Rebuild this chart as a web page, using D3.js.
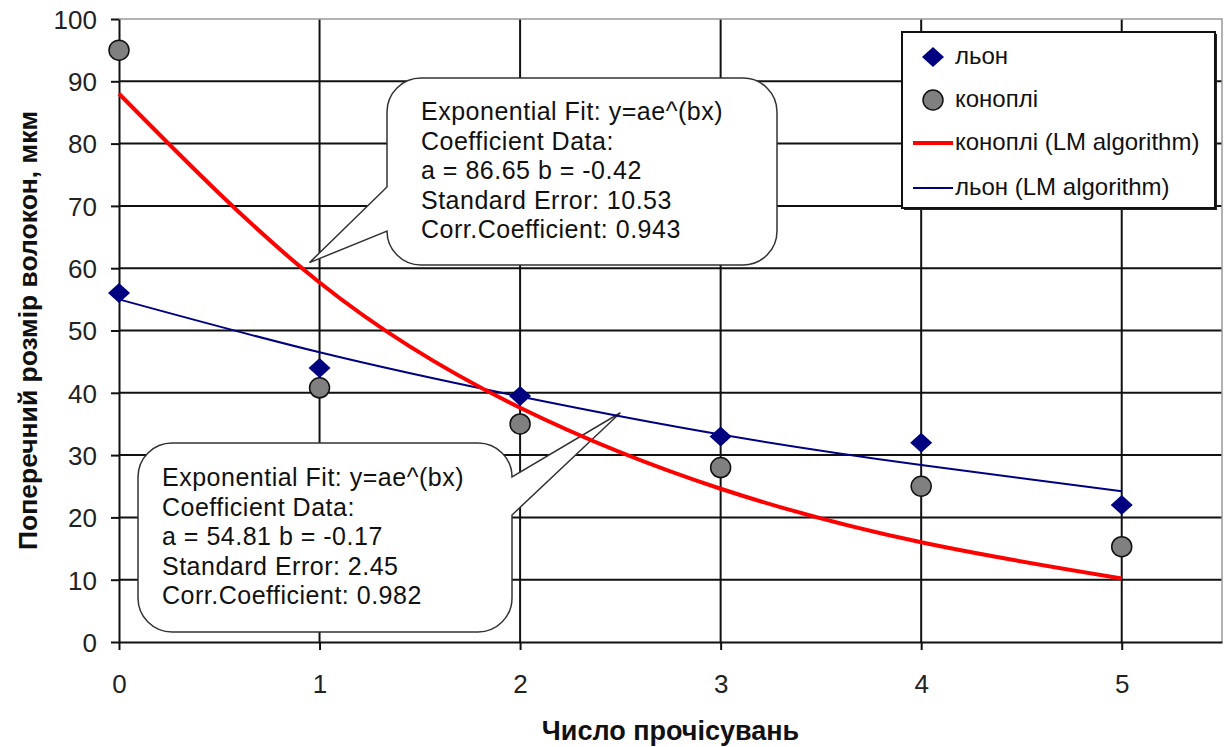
<!DOCTYPE html>
<html>
<head>
<meta charset="utf-8">
<script src="https://cdn.jsdelivr.net/npm/d3@7"></script>
<style>
    body { margin: 0; background: #fff; }
    svg { display: block; }
    text { font-family: "Liberation Sans", Arial, sans-serif; }
</style>
</head>
<body>
<div id="chart"></div>
<script>

// дані
var passes = [0, 1, 2, 3, 4, 5];
var flax = [56, 44, 39.5, 33, 32, 22];
var hemp = [95, 40.8, 35, 28, 25, 15.3];
var hempFit = [88, 57.7, 37.6, 24.6, 16, 10.2];
var flaxFit = [55, 46.5, 39.4, 33.3, 28.4, 24.2];

var xTickLabels = ["0", "1", "2", "3", "4", "5"];
var yTickLabels = ["0", "10", "20", "30", "40", "50", "60", "70", "80", "90", "100"];

var legendNames = ["льон", "коноплі", "коноплі (LM algorithm)", "льон (LM algorithm)"];

var hempNote = ["Exponential Fit: y=ae^(bx)", "Coefficient Data:", "a = 86.65 b = -0.42",
    "Standard Error: 10.53", "Corr.Coefficient: 0.943"];
var flaxNote = ["Exponential Fit: y=ae^(bx)", "Coefficient Data:", "a = 54.81 b = -0.17",
    "Standard Error: 2.45", "Corr.Coefficient: 0.982"];

var width = 1224, height = 747;

var svg = d3.select("#chart").append("svg")
    .attr("width", width)
    .attr("height", height);

var x = d3.scaleLinear().domain([0, 5.5]).range([119, 1222]);
var y = d3.scaleLinear().domain([0, 100]).range([642, 19]);

var xVals = xTickLabels.map(Number);
var yVals = yTickLabels.map(Number);

// сітка
var grid = svg.append("g");
grid.selectAll(".hg")
    .data(yVals.filter(function(d) { return d > 0 && d < 100; }))
    .enter().append("line")
    .attr("x1", x(0)).attr("x2", x(5.5))
    .attr("y1", function(d) { return y(d); })
    .attr("y2", function(d) { return y(d); })
    .attr("stroke", "#111").attr("stroke-width", 2);
grid.selectAll(".vg")
    .data(xVals.filter(function(d) { return d > 0; }))
    .enter().append("line")
    .attr("y1", y(0)).attr("y2", y(100))
    .attr("x1", function(d) { return x(d); })
    .attr("x2", function(d) { return x(d); })
    .attr("stroke", "#111").attr("stroke-width", 2);

// рамка зверху і справа
grid.append("path")
    .attr("d", "M" + x(0) + "," + y(100) + "H" + x(5.5) + "V" + y(0))
    .attr("fill", "none")
    .attr("stroke", "#9a9a9a")
    .attr("stroke-width", 1.5);

// осі
var xAxis = svg.append("g")
    .attr("transform", "translate(0," + y(0) + ")")
    .call(d3.axisBottom(x).tickValues(xVals).tickFormat(function(d, i) { return xTickLabels[i]; }).tickSize(8).tickSizeOuter(0));
xAxis.select(".domain").attr("stroke", "#111").attr("stroke-width", 2);
xAxis.selectAll(".tick line").attr("stroke", "#111").attr("stroke-width", 2);
xAxis.selectAll("text")
    .attr("dy", null).attr("y", 51)
    .style("font-size", "26px").attr("fill", "#222");

var yAxis = svg.append("g")
    .attr("transform", "translate(" + x(0) + ",0)")
    .call(d3.axisLeft(y).tickValues(yVals).tickFormat(function(d, i) { return yTickLabels[i]; }).tickSize(8).tickSizeOuter(0));
yAxis.select(".domain").attr("stroke", "#111").attr("stroke-width", 2);
yAxis.selectAll(".tick line").attr("stroke", "#111").attr("stroke-width", 2);
yAxis.selectAll("text")
    .attr("x", -22).attr("dy", "0.36em")
    .style("font-size", "26px").attr("fill", "#222");

svg.append("text")
    .attr("x", (x(0) + x(5.5)) / 2).attr("y", 740)
    .attr("text-anchor", "middle")
    .style("font-size", "27px").style("font-weight", "bold")
    .attr("fill", "#111")
    .text("Число прочісувань");

svg.append("text")
    .attr("transform", "translate(37," + ((y(0) + y(100)) / 2) + ") rotate(-90)")
    .attr("text-anchor", "middle")
    .style("font-size", "26.5px").style("font-weight", "bold")
    .attr("fill", "#111")
    .text("Поперечний розмір волокон, мкм");

// виноски з параметрами апроксимації
function bubble(b, r, tip, notch) {
    var p = d3.path();
    p.moveTo(b.x0 + r, b.y0);
    p.lineTo(b.x1 - r, b.y0);
    p.arcTo(b.x1, b.y0, b.x1, b.y0 + r, r);
    if (notch == "right") {
        p.lineTo(tip[0], tip[1]);
        p.lineTo(b.x1, b.ny);
    }
    p.lineTo(b.x1, b.y1 - r);
    p.arcTo(b.x1, b.y1, b.x1 - r, b.y1, r);
    p.lineTo(b.x0 + r, b.y1);
    p.arcTo(b.x0, b.y1, b.x0, b.y1 - r, r);
    if (notch == "left") {
        p.lineTo(tip[0], tip[1]);
        p.lineTo(b.x0, b.ny);
    }
    p.lineTo(b.x0, b.y0 + r);
    p.arcTo(b.x0, b.y0, b.x0 + r, b.y0, r);
    p.closePath();
    return p.toString();
}

var notes = svg.append("g");

function drawNote(lines, box, tipData, notch, tx, ty) {
    notes.append("path")
        .attr("d", bubble(box, 34, [x(tipData[0]), y(tipData[1])], notch))
        .attr("fill", "#fff")
        .attr("stroke", "#333")
        .attr("stroke-width", 1.5);
    notes.append("g").selectAll("text")
        .data(lines).enter().append("text")
        .attr("x", tx)
        .attr("y", function(d, i) { return ty + i * 29.5; })
        .style("font-size", "25px")
        .style("letter-spacing", "0.5px")
        .attr("fill", "#111")
        .text(function(d) { return d; });
}

drawNote(hempNote, {x0: 387, y0: 78, x1: 777, y1: 265, ny: 187}, [0.95, 60.9], "left", 421, 120);
drawNote(flaxNote, {x0: 138, y0: 443, x1: 512, y1: 632, ny: 515}, [2.5, 36.8], "right", 162, 486);

// криві апроксимації
var line = d3.line()
    .x(function(d, i) { return x(passes[i]); })
    .y(function(d) { return y(d); })
    .curve(d3.curveNatural);

svg.append("path")
    .datum(flaxFit)
    .attr("d", line)
    .attr("fill", "none")
    .attr("stroke", "#000080")
    .attr("stroke-width", 2);

svg.append("path")
    .datum(hempFit)
    .attr("d", line)
    .attr("fill", "none")
    .attr("stroke", "#ff0000")
    .attr("stroke-width", 4);

// маркери
var diamond = "M0,-10L11,0L0,10L-11,0Z";

svg.append("g").selectAll("circle")
    .data(hemp).enter().append("circle")
    .attr("cx", function(d, i) { return x(passes[i]); })
    .attr("cy", function(d) { return y(d); })
    .attr("r", 10)
    .attr("fill", "#808080")
    .attr("stroke", "#111")
    .attr("stroke-width", 1.5);

svg.append("g").selectAll("path")
    .data(flax).enter().append("path")
    .attr("d", diamond)
    .attr("transform", function(d, i) { return "translate(" + x(passes[i]) + "," + y(d) + ")"; })
    .attr("fill", "#000080");

// легенда
var legend = svg.append("g").attr("transform", "translate(902,32)");
legend.append("rect")
    .attr("x", 2).attr("y", 2)
    .attr("width", 313).attr("height", 176)
    .attr("fill", "#222");
legend.append("rect")
    .attr("width", 313).attr("height", 176)
    .attr("fill", "#fff")
    .attr("stroke", "#111")
    .attr("stroke-width", 2);

var rowY = [25, 68, 111, 156];

legend.append("path")
    .attr("d", diamond)
    .attr("transform", "translate(31," + rowY[0] + ")")
    .attr("fill", "#000080");
legend.append("circle")
    .attr("cx", 31).attr("cy", rowY[1]).attr("r", 10)
    .attr("fill", "#808080").attr("stroke", "#111").attr("stroke-width", 1.5);
legend.append("line")
    .attr("x1", 11).attr("x2", 51)
    .attr("y1", rowY[2]).attr("y2", rowY[2])
    .attr("stroke", "#ff0000").attr("stroke-width", 4);
legend.append("line")
    .attr("x1", 11).attr("x2", 51)
    .attr("y1", rowY[3]).attr("y2", rowY[3])
    .attr("stroke", "#000080").attr("stroke-width", 2);

legend.selectAll(".lt")
    .data(legendNames).enter().append("text")
    .attr("x", 53)
    .attr("y", function(d, i) { return rowY[i] + 7; })
    .style("font-size", "24px")
    .attr("fill", "#111")
    .text(function(d) { return d; });

</script>
</body>
</html>
